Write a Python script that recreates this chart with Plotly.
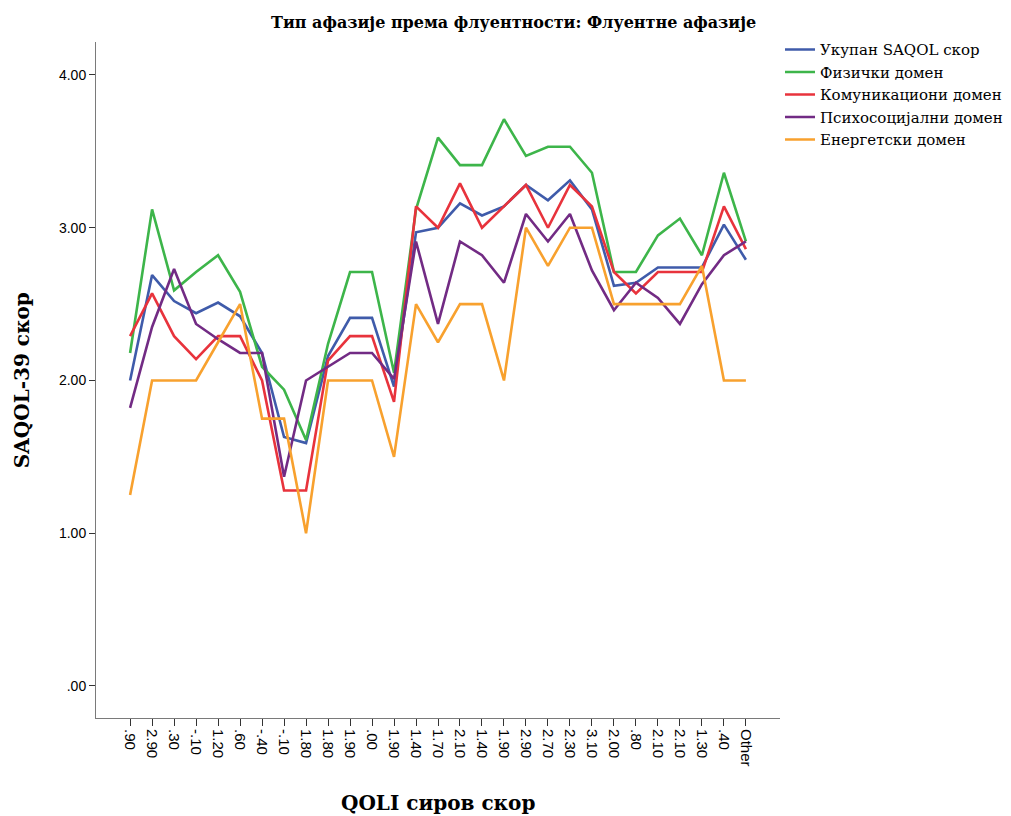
import plotly.graph_objects as go

# QOLI raw score categories (x axis, in order of appearance)
qoli_labels = [".90", "2.90", ".30", "-.10", "1.20", ".60", "-.40", "-.10", "1.80",
               "1.80", "1.90", ".00", "1.90", "1.40", "1.70", "2.10", "1.40", "1.90",
               "2.90", "2.70", "2.30", "3.10", "2.00", ".80", "2.10", "2.10", "1.30",
               ".40", "Other"]

total_score = [2.00, 2.69, 2.52, 2.44, 2.51, 2.42, 2.18, 1.63, 1.59, 2.16, 2.41, 2.41,
               1.96, 2.97, 3.00, 3.16, 3.08, 3.14, 3.28, 3.18, 3.31, 3.12, 2.62, 2.64,
               2.74, 2.74, 2.74, 3.02, 2.79]
physical = [2.18, 3.12, 2.59, 2.71, 2.82, 2.58, 2.09, 1.94, 1.61, 2.24, 2.71, 2.71,
            2.05, 3.12, 3.59, 3.41, 3.41, 3.71, 3.47, 3.53, 3.53, 3.36, 2.71, 2.71,
            2.95, 3.06, 2.82, 3.36, 2.91]
communication = [2.29, 2.57, 2.29, 2.14, 2.29, 2.29, 2.00, 1.28, 1.28, 2.13, 2.29, 2.29,
                 1.86, 3.14, 3.00, 3.29, 3.00, 3.14, 3.28, 3.00, 3.28, 3.14, 2.71, 2.57,
                 2.71, 2.71, 2.71, 3.14, 2.86]
psychosocial = [1.82, 2.35, 2.73, 2.37, 2.27, 2.18, 2.18, 1.37, 2.00, 2.09, 2.18, 2.18,
                2.01, 2.91, 2.37, 2.91, 2.82, 2.64, 3.09, 2.91, 3.09, 2.72, 2.46, 2.64,
                2.54, 2.37, 2.63, 2.82, 2.91]
energy = [1.25, 2.00, 2.00, 2.00, 2.25, 2.50, 1.75, 1.75, 1.00, 2.00, 2.00, 2.00,
          1.50, 2.50, 2.25, 2.50, 2.50, 2.00, 3.00, 2.75, 3.00, 3.00, 2.50, 2.50,
          2.50, 2.50, 2.75, 2.00, 2.00]

series = [
    ("Укупан SAQOL скор", total_score, "#3F5BAA"),
    ("Физички домен", physical, "#3DB54A"),
    ("Комуникациони домен", communication, "#E8333C"),
    ("Психосоцијални домен", psychosocial, "#722B84"),
    ("Енергетски домен", energy, "#F8A12E"),
]

x_pos = list(range(len(qoli_labels)))

fig = go.Figure()
for name, values, color in series:
    fig.add_trace(go.Scatter(
        x=x_pos, y=values, mode="lines", name=name,
        line=dict(color=color, width=2.6),
    ))

serif = "DejaVu Serif, Liberation Serif, serif"
sans = "Liberation Sans, Arial, sans-serif"

fig.update_layout(
    width=1011, height=816,
    margin=dict(l=96, r=231, t=42, b=98, autoexpand=False),
    paper_bgcolor="white", plot_bgcolor="white",
    title=dict(text="<b>Тип афазије према флуентности: Флуентне афазије</b>",
               x=0.508, xanchor="center", y=0.973, yanchor="middle",
               font=dict(family=serif, size=16, color="black")),
    showlegend=True,
    legend=dict(x=1.0, xanchor="left", y=1.013, yanchor="top",
                font=dict(family=serif, size=15, color="black"),
                bgcolor="rgba(0,0,0,0)", tracegroupgap=0, itemwidth=30,
                traceorder="normal"),
    xaxis=dict(
        range=[-1.55, 29.55], tickmode="array", tickvals=x_pos, ticktext=qoli_labels,
        tickangle=90, ticks="outside", ticklen=7, tickcolor="#333333",
        showline=True, linecolor="#7a7a7a", linewidth=1, showgrid=False, zeroline=False,
        tickfont=dict(family=sans, size=15, color="black"),
    ),
    yaxis=dict(
        range=[-0.21, 4.216], tickmode="array", tickvals=[0, 1, 2, 3, 4],
        ticktext=[".00", "1.00", "2.00", "3.00", "4.00"],
        ticks="outside", ticklen=6, tickcolor="#333333",
        showline=True, linecolor="#7a7a7a", linewidth=1, showgrid=False, zeroline=False,
        tickfont=dict(family=sans, size=14, color="black"),
    ),
    annotations=[
        dict(text="<b>SAQOL-39 скор</b>", xref="paper", yref="paper",
             x=-0.108, y=0.5, xanchor="center", yanchor="middle", textangle=-90,
             showarrow=False, font=dict(family=serif, size=20, color="black")),
        dict(text="<b>QOLI сиров скор</b>", xref="paper", yref="paper",
             x=0.5, y=-0.125, xanchor="center", yanchor="middle",
             showarrow=False, font=dict(family=serif, size=20, color="black")),
    ],
)

fig.write_html("out.html")
